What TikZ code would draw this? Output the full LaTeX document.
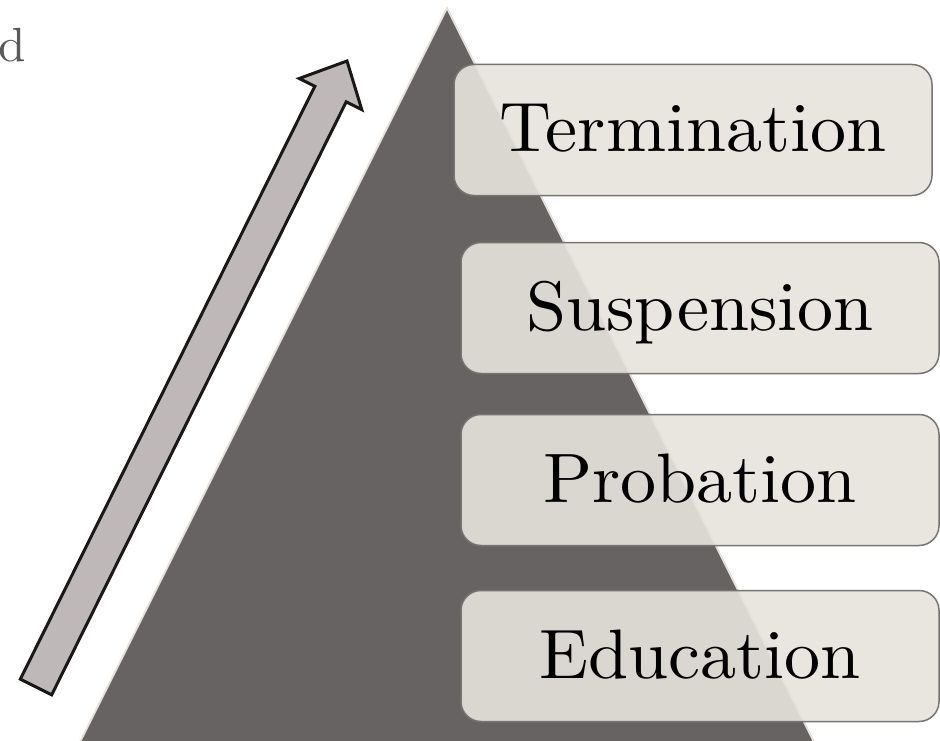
\documentclass[tikz,border=0pt]{standalone}
\usepackage{fontspec}
\newfontfamily\stagefont{lmroman10-regular.otf}[FakeStretch=1.03]
\definecolor{pyrfill}{RGB}{103,99,98}
\definecolor{pyredge}{RGB}{230,226,218}
\definecolor{boxfill}{RGB}{231,227,220}
\definecolor{boxline}{RGB}{118,116,114}
\definecolor{arrowfill}{RGB}{191,184,184}
\definecolor{arrowline}{RGB}{26,24,22}
\definecolor{lettergray}{RGB}{90,90,90}
\begin{document}
\begin{tikzpicture}[x=1pt,y=-1pt,line join=miter,
		stage/.style={draw=boxline,line width=1.5pt,fill=boxfill,fill opacity=0.9,text opacity=1,
			rounded corners=20pt,minimum width=478pt,minimum height=131pt,inner sep=0pt,
			text height=44pt,text depth=0pt,font=\stagefont\fontsize{70}{80}\selectfont}]
	\clip (0,0) rectangle (940,741);
	\draw[line width=2pt,draw=pyredge,fill=pyrfill] (447,8)--(71,760)--(823,760)--cycle;
	\draw[line width=3pt,draw=arrowline,fill=arrowfill] (20.3,679.2)--(314.8,86.3)--(299.2,78.5)--(347,61)
		--(361.8,109.7)--(346.2,101.9)--(51.7,694.8)--cycle;
	\node[anchor=base west,inner sep=0pt,text=lettergray,font=\stagefont\fontsize{48}{55}\selectfont] (cut) at (-2,62) {d};
	\node[stage] (termination) at (693,130) {Termination};
	\node[stage] (suspension) at (700,308) {Suspension};
	\node[stage] (probation) at (700,480) {Probation};
	\node[stage] (education) at (700,656) {Education};
\end{tikzpicture}
\end{document}
